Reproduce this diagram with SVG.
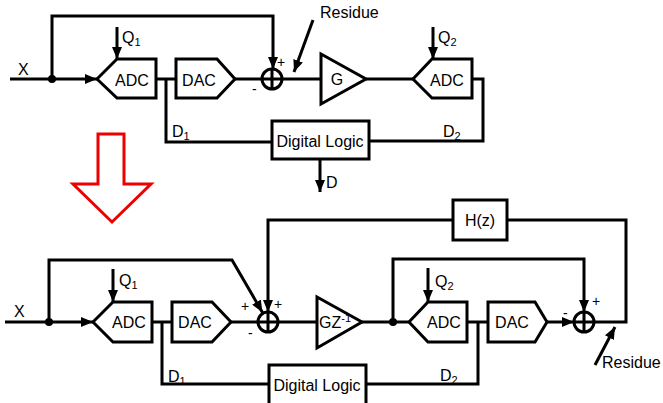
<svg xmlns="http://www.w3.org/2000/svg" width="663" height="403" viewBox="0 0 663 403">
<defs>
<marker id="ah" viewBox="0 0 12 10" refX="12" refY="5" markerWidth="12" markerHeight="10" markerUnits="userSpaceOnUse" orient="auto"><path d="M0,0 L12,5 L0,10 Z" fill="#000"/></marker>
<style>
.w{fill:none;stroke:#000;stroke-width:3;stroke-linejoin:miter}
.b{fill:#fff;stroke:#000;stroke-width:3}
.a{marker-end:url(#ah)}
text{font-family:"Liberation Sans",Arial,sans-serif;font-size:16px;fill:#000}
.c{text-anchor:middle}
.s{font-size:14px}
.sub{font-size:11px}
</style>
</defs>
<rect width="663" height="403" fill="#fff"/>
<g id="connectors">
<path class="w a" d="M10,79 H97"/>
<path class="w a" d="M52,79 V16 H273 V69"/>
<path class="w a" d="M117,27 V59"/>
<path class="w" d="M156,79 H176"/>
<path class="w" d="M166,79 V142 H272"/>
<path class="w" d="M235,79 H262"/>
<path class="w" d="M282,79 H321"/>
<path class="w" d="M366,79 H413"/>
<path class="w a" d="M433,27 V59"/>
<path class="w" d="M472,79 H483 V141 H369"/>
<path class="w a" d="M320,159 V192"/>
<path class="w a" d="M313,20 L294,72"/>
<path class="w a" d="M5,322 H93"/>
<path class="w a" d="M49,322 V260 H232 L262.5,312.5"/>
<path class="w a" d="M113,269 V302"/>
<path class="w" d="M152,322 H172"/>
<path class="w" d="M162,322 V384 H269"/>
<path class="w" d="M231,322 H258"/>
<path class="w a" d="M453,220 H268 V312"/>
<path class="w" d="M507,220 H626 V322 H594"/>
<path class="w" d="M278,322 H317"/>
<path class="w" d="M362,322 H409"/>
<path class="w a" d="M393,322 V259 H584 V312"/>
<path class="w a" d="M428,268 V302"/>
<path class="w" d="M467,322 H488"/>
<path class="w" d="M478,322 V384 H366"/>
<path class="w a" d="M547,322 H574"/>
<path class="w a" d="M595,365 L615,327"/>
<circle cx="52" cy="79" r="4" fill="#000"/>
<circle cx="49" cy="322" r="4" fill="#000"/>
<circle cx="393" cy="322" r="4" fill="#000"/>
</g>
<g id="red-arrow">
<polygon points="98,134 124,134 124,184 151,184 112,222 73,184 98,184" fill="none" stroke="#e00" stroke-width="3"/>
</g>
<g id="adc1-top"><polygon class="b" points="97,79 117,59 156,59 156,98 117,98"/><text class="c" x="132" y="86">ADC</text></g>
<g id="dac1-top"><polygon class="b" points="176,59 217,59 235,79 217,98 176,98"/><text class="c" x="199" y="86">DAC</text></g>
<g id="sum-top"><circle class="b" cx="272" cy="79" r="10"/><path class="w" d="M262,79 H282 M272,69 V89"/></g>
<g id="g-amp"><polygon class="b" points="321,54 321,104 366,79"/><text class="c" x="337" y="85">G</text></g>
<g id="adc2-top"><polygon class="b" points="413,79 432,59 472,59 472,98 432,98"/><text class="c" x="447" y="86">ADC</text></g>
<g id="logic-top"><rect class="b" x="272" y="121" width="97" height="38"/><text class="c" x="320" y="147">Digital Logic</text></g>
<g id="adc1-bot"><polygon class="b" points="93,322 113,302 152,302 152,342 113,342"/><text class="c" x="129" y="328">ADC</text></g>
<g id="dac1-bot"><polygon class="b" points="172,302 212,302 231,322 212,342 172,342"/><text class="c" x="195" y="328">DAC</text></g>
<g id="sum1-bot"><circle class="b" cx="268" cy="322" r="10"/><path class="w" d="M258,322 H278 M268,312 V332"/></g>
<g id="gz-amp"><polygon class="b" points="317,297 317,348 362,322"/><text x="319" y="328">GZ<tspan class="sub" dy="-6">-1</tspan></text></g>
<g id="hz"><rect class="b" x="453" y="200" width="54" height="40"/><text class="c" x="480" y="226">H(z)</text></g>
<g id="adc2-bot"><polygon class="b" points="409,322 428,302 467,302 467,342 428,342"/><text class="c" x="444" y="328">ADC</text></g>
<g id="dac2-bot"><polygon class="b" points="488,302 535,302 547,322 535,342 488,342"/><text class="c" x="512" y="328">DAC</text></g>
<g id="sum2-bot"><circle class="b" cx="584" cy="322" r="10"/><path class="w" d="M574,322 H594 M584,312 V332"/></g>
<g id="logic-bot"><rect class="b" x="269" y="365" width="97" height="45"/><text class="c" x="317" y="391">Digital Logic</text></g>
<g id="labels">
<text x="18" y="75">X</text>
<text x="122" y="43">Q<tspan class="sub" dy="3">1</tspan></text>
<text x="438" y="43">Q<tspan class="sub" dy="3">2</tspan></text>
<text x="172" y="137">D<tspan class="sub" dy="3">1</tspan></text>
<text x="443" y="137">D<tspan class="sub" dy="3">2</tspan></text>
<text x="326" y="188">D</text>
<text x="320" y="18">Residue</text>
<text class="s" x="277" y="67">+</text>
<text class="s" x="252" y="94">-</text>
<text x="14" y="317">X</text>
<text x="119" y="286">Q<tspan class="sub" dy="3">1</tspan></text>
<text x="435" y="287">Q<tspan class="sub" dy="3">2</tspan></text>
<text x="168" y="382">D<tspan class="sub" dy="3">1</tspan></text>
<text x="440" y="381">D<tspan class="sub" dy="3">2</tspan></text>
<text class="s" x="241" y="311">+</text>
<text class="s" x="248" y="338">-</text>
<text class="s" x="274" y="309">+</text>
<text class="s" x="563" y="318">-</text>
<text class="s" x="592" y="306">+</text>
<text x="602" y="368">Residue</text>
</g>
</svg>
